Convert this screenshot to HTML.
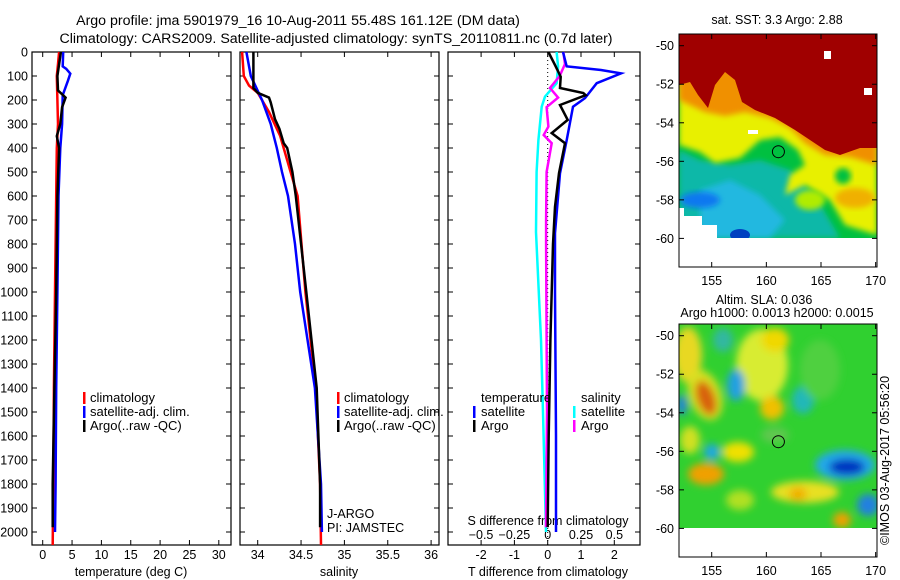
<!DOCTYPE html>
<html><head><meta charset="utf-8"><style>
html,body{margin:0;padding:0;background:#fff}
svg{display:block;font-family:"Liberation Sans",sans-serif;font-size:12.5px}
</style></head><body>
<svg id="chart" width="900" height="580" viewBox="0 0 900 580">
<defs>
<clipPath id="clipMap1"><rect x="679" y="34" width="198" height="204"/></clipPath>
<clipPath id="clipMap2"><rect x="679" y="324" width="198" height="204"/></clipPath>
<filter id="blur3" x="-20%" y="-20%" width="140%" height="140%"><feGaussianBlur stdDeviation="3"/></filter>
<filter id="blur4" x="-30%" y="-30%" width="160%" height="160%"><feGaussianBlur stdDeviation="4"/></filter>
</defs>

<g>
<text x="298" y="25" text-anchor="middle" font-size="14.2">Argo profile: jma 5901979_16 10-Aug-2011 55.48S 161.12E (DM data)</text>
<text x="336" y="43" text-anchor="middle" font-size="14.2">Climatology: CARS2009. Satellite-adjusted climatology: synTS_20110811.nc (0.7d later)</text>
</g>

<!-- map 1 -->
<g>
<g clip-path="url(#clipMap1)">
<rect x="679" y="34" width="198" height="204" fill="#00c040"/>
<path d="M679,150 L700,160 L730,165 L760,160 L790,170 L815,195 L840,238 L679,238 Z" fill="#10b8a8" filter="url(#blur3)"/>
<path d="M700,190 L730,180 L760,195 L785,220 L770,238 L700,238 Z" fill="#20b8e0" filter="url(#blur3)"/>
<ellipse cx="700" cy="200" rx="20" ry="8" fill="#0878f0" filter="url(#blur3)"/>
<ellipse cx="740" cy="235" rx="10" ry="6" fill="#0040c0"/>
<path d="M679,34 L877,34 L877,235 L845,225 L830,200 L805,185 L785,195 L790,175 L805,165 L798,150 L780,137 L760,140 L740,158 L715,163 L700,152 L679,145 Z" fill="#e8f000" filter="url(#blur3)"/>
<ellipse cx="810" cy="200" rx="15" ry="10" fill="#b0ec00" filter="url(#blur3)"/>
<ellipse cx="855" cy="198" rx="20" ry="10" fill="#f0b000" filter="url(#blur3)"/>
<ellipse cx="843" cy="176" rx="8" ry="8" fill="#00c040" filter="url(#blur3)"/>
<path d="M679,34 L877,34 L877,165 L850,157 L825,155 L805,143 L790,128 L770,118 L745,112 L725,116 L705,112 L690,105 L679,100 Z" fill="#f09000" filter="url(#blur3)"/>
<path d="M679,34 L877,34 L877,148 L860,148 L840,155 L825,150 L810,140 L795,130 L775,118 L755,110 L742,102 L735,80 L725,72 L715,85 L708,108 L698,95 L690,82 L679,85 Z" fill="#a00000"/>
<rect x="824" y="51" width="7" height="8" fill="#fff"/>
<rect x="864" y="88" width="8" height="7" fill="#fff"/>
<rect x="748" y="130" width="10" height="4" fill="#fff"/>
</g>
<path d="M679,208 L684,208 L684,216 L702,216 L702,225 L717,225 L717,238 L679,238 Z" fill="#fff"/>
<rect x="679" y="34" width="198" height="233" fill="none" stroke="#000" stroke-width="1"/>
<circle cx="778.4" cy="151.7" r="6" fill="none" stroke="#000" stroke-width="1"/>
<text x="777" y="24" text-anchor="middle">sat. SST: 3.3 Argo: 2.88</text>
</g>

<!-- map 2 -->
<g>
<g clip-path="url(#clipMap2)">
<rect x="679" y="324" width="198" height="204" fill="#30d030"/>
<g filter="url(#blur4)">
<ellipse cx="688" cy="355" rx="14" ry="28" fill="#e8d820"/>
<ellipse cx="705" cy="395" rx="16" ry="26" fill="#d8e020" transform="rotate(-20 705 395)"/>
<ellipse cx="706" cy="398" rx="9" ry="18" fill="#d86010" transform="rotate(-20 706 398)"/>
<ellipse cx="762" cy="365" rx="26" ry="36" fill="#d8ec30"/>
<ellipse cx="775" cy="340" rx="14" ry="12" fill="#f0d800"/>
<ellipse cx="772" cy="408" rx="12" ry="12" fill="#f0c000"/>
<ellipse cx="736" cy="385" rx="9" ry="16" fill="#20a0e0"/>
<ellipse cx="723" cy="340" rx="10" ry="12" fill="#30b8a0"/>
<ellipse cx="712" cy="452" rx="8" ry="8" fill="#20a8e0"/>
<ellipse cx="706" cy="474" rx="18" ry="11" fill="#f0a000"/>
<ellipse cx="738" cy="452" rx="16" ry="10" fill="#f0e000"/>
<ellipse cx="690" cy="440" rx="10" ry="14" fill="#d0e020"/>
<ellipse cx="803" cy="400" rx="11" ry="14" fill="#20b8b8"/>
<ellipse cx="775" cy="435" rx="14" ry="8" fill="#60c850"/>
<ellipse cx="845" cy="465" rx="30" ry="15" fill="#20a8e8"/>
<ellipse cx="847" cy="467" rx="18" ry="8" fill="#0030c0"/>
<ellipse cx="805" cy="492" rx="34" ry="11" fill="#e8e020"/>
<ellipse cx="798" cy="494" rx="9" ry="7" fill="#f0b000"/>
<ellipse cx="868" cy="505" rx="11" ry="11" fill="#2080e0"/>
<ellipse cx="842" cy="520" rx="9" ry="8" fill="#f0a000"/>
<ellipse cx="682" cy="405" rx="5" ry="10" fill="#2080e0"/>
<ellipse cx="740" cy="500" rx="14" ry="10" fill="#b0e020"/>
<ellipse cx="820" cy="370" rx="20" ry="30" fill="#50d040"/>
</g>
</g>
<rect x="679" y="528" width="198" height="29" fill="#fff"/>
<rect x="679" y="324" width="198" height="233" fill="none" stroke="#000" stroke-width="1"/>
<circle cx="778.4" cy="441.7" r="6" fill="none" stroke="#000" stroke-width="1"/>
<text x="764" y="304" text-anchor="middle">Altim. SLA: 0.036</text>
<text x="777" y="317" text-anchor="middle">Argo h1000: 0.0013 h2000: 0.0015</text>
</g>
<text transform="translate(889,545) rotate(-90)">©IMOS 03-Aug-2017 05:56:20</text>

<g id="axes"></g>
<g id="marks"></g>
</svg>
<script>
// ---- Panel 1: temperature profiles (depth, degC)
const tempClimDepth = [0, 50, 100, 200, 300, 400, 600, 1000, 1400, 1800, 2054];
const tempClimValue = [2.8, 2.6, 2.4, 2.5, 2.6, 2.4, 2.3, 2.1, 1.9, 1.8, 1.7];
const tempSatDepth = [0, 60, 70, 90, 120, 180, 300, 400, 600, 1000, 1400, 1800, 2000];
const tempSatValue = [3.5, 3.4, 4.0, 4.7, 4.3, 3.4, 3.3, 3.0, 2.7, 2.5, 2.3, 2.2, 2.1];
const tempArgoDepth = [0, 100, 160, 190, 230, 300, 350, 400, 600, 1000, 1400, 1800, 1980];
const tempArgoValue = [3.1, 2.5, 2.6, 3.9, 3.3, 3.0, 2.4, 2.8, 2.5, 2.3, 2.0, 1.7, 1.7];
const tempTicks = [0, 5, 10, 15, 20, 25, 30];

// ---- Panel 2: salinity profiles
const salClimDepth = [0, 100, 140, 170, 250, 350, 500, 600, 1000, 1400, 1800, 2054];
const salClimValue = [33.82, 33.84, 33.9, 34.0, 34.13, 34.26, 34.38, 34.46, 34.55, 34.67, 34.72, 34.73];
const salSatDepth = [0, 100, 200, 300, 400, 500, 600, 800, 1000, 1400, 1800, 2000];
const salSatValue = [33.87, 33.92, 34.05, 34.15, 34.22, 34.28, 34.35, 34.43, 34.49, 34.66, 34.73, 34.74];
const salArgoDepth = [0, 150, 170, 190, 210, 280, 320, 380, 400, 500, 600, 1000, 1400, 1800, 1980];
const salArgoValue = [33.95, 33.95, 34.0, 34.13, 34.15, 34.2, 34.25, 34.3, 34.34, 34.4, 34.44, 34.56, 34.68, 34.72, 34.72];
const salTicks = [34, 34.5, 35, 35.5, 36];

// ---- Panel 3: differences from climatology
const dtSatDepth = [0, 60, 75, 89, 130, 192, 228, 367, 505, 755, 1000, 1600, 2000];
const dtSatValue = [0.46, 0.57, 1.6, 2.2, 1.47, 1.12, 0.76, 0.57, 0.37, 0.22, 0.22, 0.25, 0.25];
const dtArgoDepth = [0, 54, 103, 150, 171, 180, 221, 283, 338, 380, 505, 645, 800, 1200, 1600, 1980];
const dtArgoValue = [0.02, 0.22, 0.39, 0.37, 1.07, 1.14, 0.37, 0.6, 0.12, 0.52, 0.34, 0.22, 0.16, 0.08, 0.03, 0.0];
const dsSatDepth = [0, 60, 130, 186, 228, 367, 500, 750, 1200, 1500, 2000];
const dsSatValue = [0.067, 0.078, 0.067, -0.02, -0.045, -0.07, -0.083, -0.088, -0.05, -0.035, -0.013];
const dsArgoDepth = [0, 50, 100, 150, 190, 230, 311, 346, 380, 500, 700, 800, 1500, 1980];
const dsArgoValue = [0.117, 0.13, 0.09, 0.017, 0.078, -0.008, 0.005, -0.03, 0.03, -0.008, -0.012, -0.012, -0.005, -0.013];
const dtTicks = [-2, -1, 0, 1, 2];
const dsTicks = [-0.5, -0.25, 0, 0.25, 0.5];
const depthTicks = [0,100,200,300,400,500,600,700,800,900,1000,1100,1200,1300,1400,1500,1600,1700,1800,1900,2000];
const lonTicks = [155, 160, 165, 170];
const latTicks = [-50, -52, -54, -56, -58, -60];

const NS = 'http://www.w3.org/2000/svg';
const axes = document.getElementById('axes');
const marks = document.getElementById('marks');
const yD = d => 52 + d * 0.24;
const xT = t => 42.7 + t * 5.87;
const xS = s => 257.7 + (s - 34) * 86.7;
const xDT = v => 547.7 + v * 33.3;
const xDS = v => 547.7 + v * 133.3;
const xLon = l => 711.7 + (l - 155) * 10.93;
const yLat = (l, off) => off + 45.7 + (-50 - l) * 19.27;

function mk(tag, attrs, parent) {
  const e = document.createElementNS(NS, tag);
  for (const k in attrs) e.setAttribute(k, attrs[k]);
  parent.appendChild(e);
  return e;
}
function txt(x, y, s, anchor, parent) {
  const e = mk('text', {x: x, y: y, 'text-anchor': anchor}, parent);
  e.textContent = s;
  return e;
}
function line(x1, y1, x2, y2, parent) {
  return mk('line', {x1: x1, y1: y1, x2: x2, y2: y2, stroke: '#000', 'stroke-width': 1}, parent);
}

const panels = [[32, 231], [240, 439], [448, 640]];
panels.forEach(function (p, i) {
  const r = mk('rect', {x: p[0], y: 52, width: p[1] - p[0], height: 493, fill: 'none', stroke: '#000', 'stroke-width': 1.2}, axes);
  
  
  depthTicks.forEach(function (d) {
    line(p[0], yD(d), p[0] + 5, yD(d), axes);
    line(p[1], yD(d), p[1] - 5, yD(d), axes);
  });
});
depthTicks.forEach(function (d) {
  const t = txt(28, yD(d) + 4.5, String(d), 'end', axes);
  
  
});
tempTicks.forEach(function (v) {
  line(xT(v), 52, xT(v), 57, axes); line(xT(v), 545, xT(v), 540, axes);
  const t = txt(xT(v), 559, String(v), 'middle', axes);
  
  
});
salTicks.forEach(function (v) {
  line(xS(v), 52, xS(v), 57, axes); line(xS(v), 545, xS(v), 540, axes);
  const t = txt(xS(v), 559, String(v), 'middle', axes);
  
  
});
dtTicks.forEach(function (v) {
  line(xDT(v), 52, xDT(v), 57, axes); line(xDT(v), 545, xDT(v), 540, axes);
  const t = txt(xDT(v), 559, String(v), 'middle', axes);
  
  
});
dsTicks.forEach(function (v) {
  const t = txt(xDS(v), 539, v < 0 ? '\u2212' + String(-v) : String(v), 'middle', axes);
  
  
});
const zl = mk('line', {x1: xDT(0), y1: 52, x2: xDT(0), y2: 545, stroke: '#000', 'stroke-width': 1, 'stroke-dasharray': '1,3'}, axes);



[['temperature (deg C)', 131, 'x-axis-title-temperature'], ['salinity', 339, 'x-axis-title-salinity'], ['T difference from climatology', 548, 'x-axis-title-t-diff']].forEach(function (a) {
  const t = txt(a[1], 576, a[0], 'middle', axes);
  
  
});
const sdt = txt(548, 525, 'S difference from climatology', 'middle', axes);


const ja = txt(327, 518, 'J-ARGO', 'start', axes);


const pi = txt(327, 532, 'PI: JAMSTEC', 'start', axes);



[[0, 285], [290, 575]].forEach(function (m) {
  lonTicks.forEach(function (l) {
    line(xLon(l), m[0] + 34, xLon(l), m[0] + 39, axes);
    line(xLon(l), m[0] + 267, xLon(l), m[0] + 262, axes);
    const t = txt(xLon(l), m[1], String(l), 'middle', axes);
    
    
  });
  latTicks.forEach(function (l) {
    const y = yLat(l, m[0]);
    line(679, y, 684, y, axes); line(877, y, 872, y, axes);
    const t = txt(674, y + 4.5, String(l), 'end', axes);
    
    
  });
});

function series(depths, vals, xf, color, name) {
  const pts = depths.map(function (d, i) { return xf(vals[i]).toFixed(1) + ',' + yD(d).toFixed(1); }).join(' ');
  const pl = mk('polyline', {points: pts, fill: 'none', stroke: color, 'stroke-width': 2.5, 'stroke-linejoin': 'miter'}, marks);
  
  
}
series(tempClimDepth, tempClimValue, xT, '#ff0000', 'temperature-climatology-line');
series(tempSatDepth, tempSatValue, xT, '#0000ff', 'temperature-satellite-line');
series(tempArgoDepth, tempArgoValue, xT, '#000000', 'temperature-argo-line');
series(salClimDepth, salClimValue, xS, '#ff0000', 'salinity-climatology-line');
series(salSatDepth, salSatValue, xS, '#0000ff', 'salinity-satellite-line');
series(salArgoDepth, salArgoValue, xS, '#000000', 'salinity-argo-line');
series(dsSatDepth, dsSatValue, xDS, '#00ffff', 's-diff-satellite-line');
series(dsArgoDepth, dsArgoValue, xDS, '#ff00ff', 's-diff-argo-line');
series(dtSatDepth, dtSatValue, xDT, '#0000ff', 't-diff-satellite-line');
series(dtArgoDepth, dtArgoValue, xDT, '#000000', 't-diff-argo-line');

function legendEntry(bx, tx, y, color, label) {
  const g = mk('g', {}, marks);
  
  
  mk('rect', {x: bx, y: y - 10, width: 2.5, height: 12, fill: color}, g);
  const t = txt(tx, y, label, 'start', g);
  t.setAttribute('font-size', '13');
}
[[83, 90], [337, 344]].forEach(function (p) {
  legendEntry(p[0], p[1], 402, '#ff0000', 'climatology');
  legendEntry(p[0], p[1], 416, '#0000ff', 'satellite-adj. clim.');
  legendEntry(p[0], p[1], 430, '#000000', 'Argo(..raw -QC)');
});
const lt = txt(481, 402, 'temperature', 'start', marks);
lt.setAttribute('font-size', '13');


const ls = txt(581, 402, 'salinity', 'start', marks);
ls.setAttribute('font-size', '13');


legendEntry(473, 481, 416, '#0000ff', 'satellite');
legendEntry(473, 481, 430, '#000000', 'Argo');
legendEntry(573, 581, 416, '#00ffff', 'satellite');
legendEntry(573, 581, 430, '#ff00ff', 'Argo');
</script>
</body></html>
